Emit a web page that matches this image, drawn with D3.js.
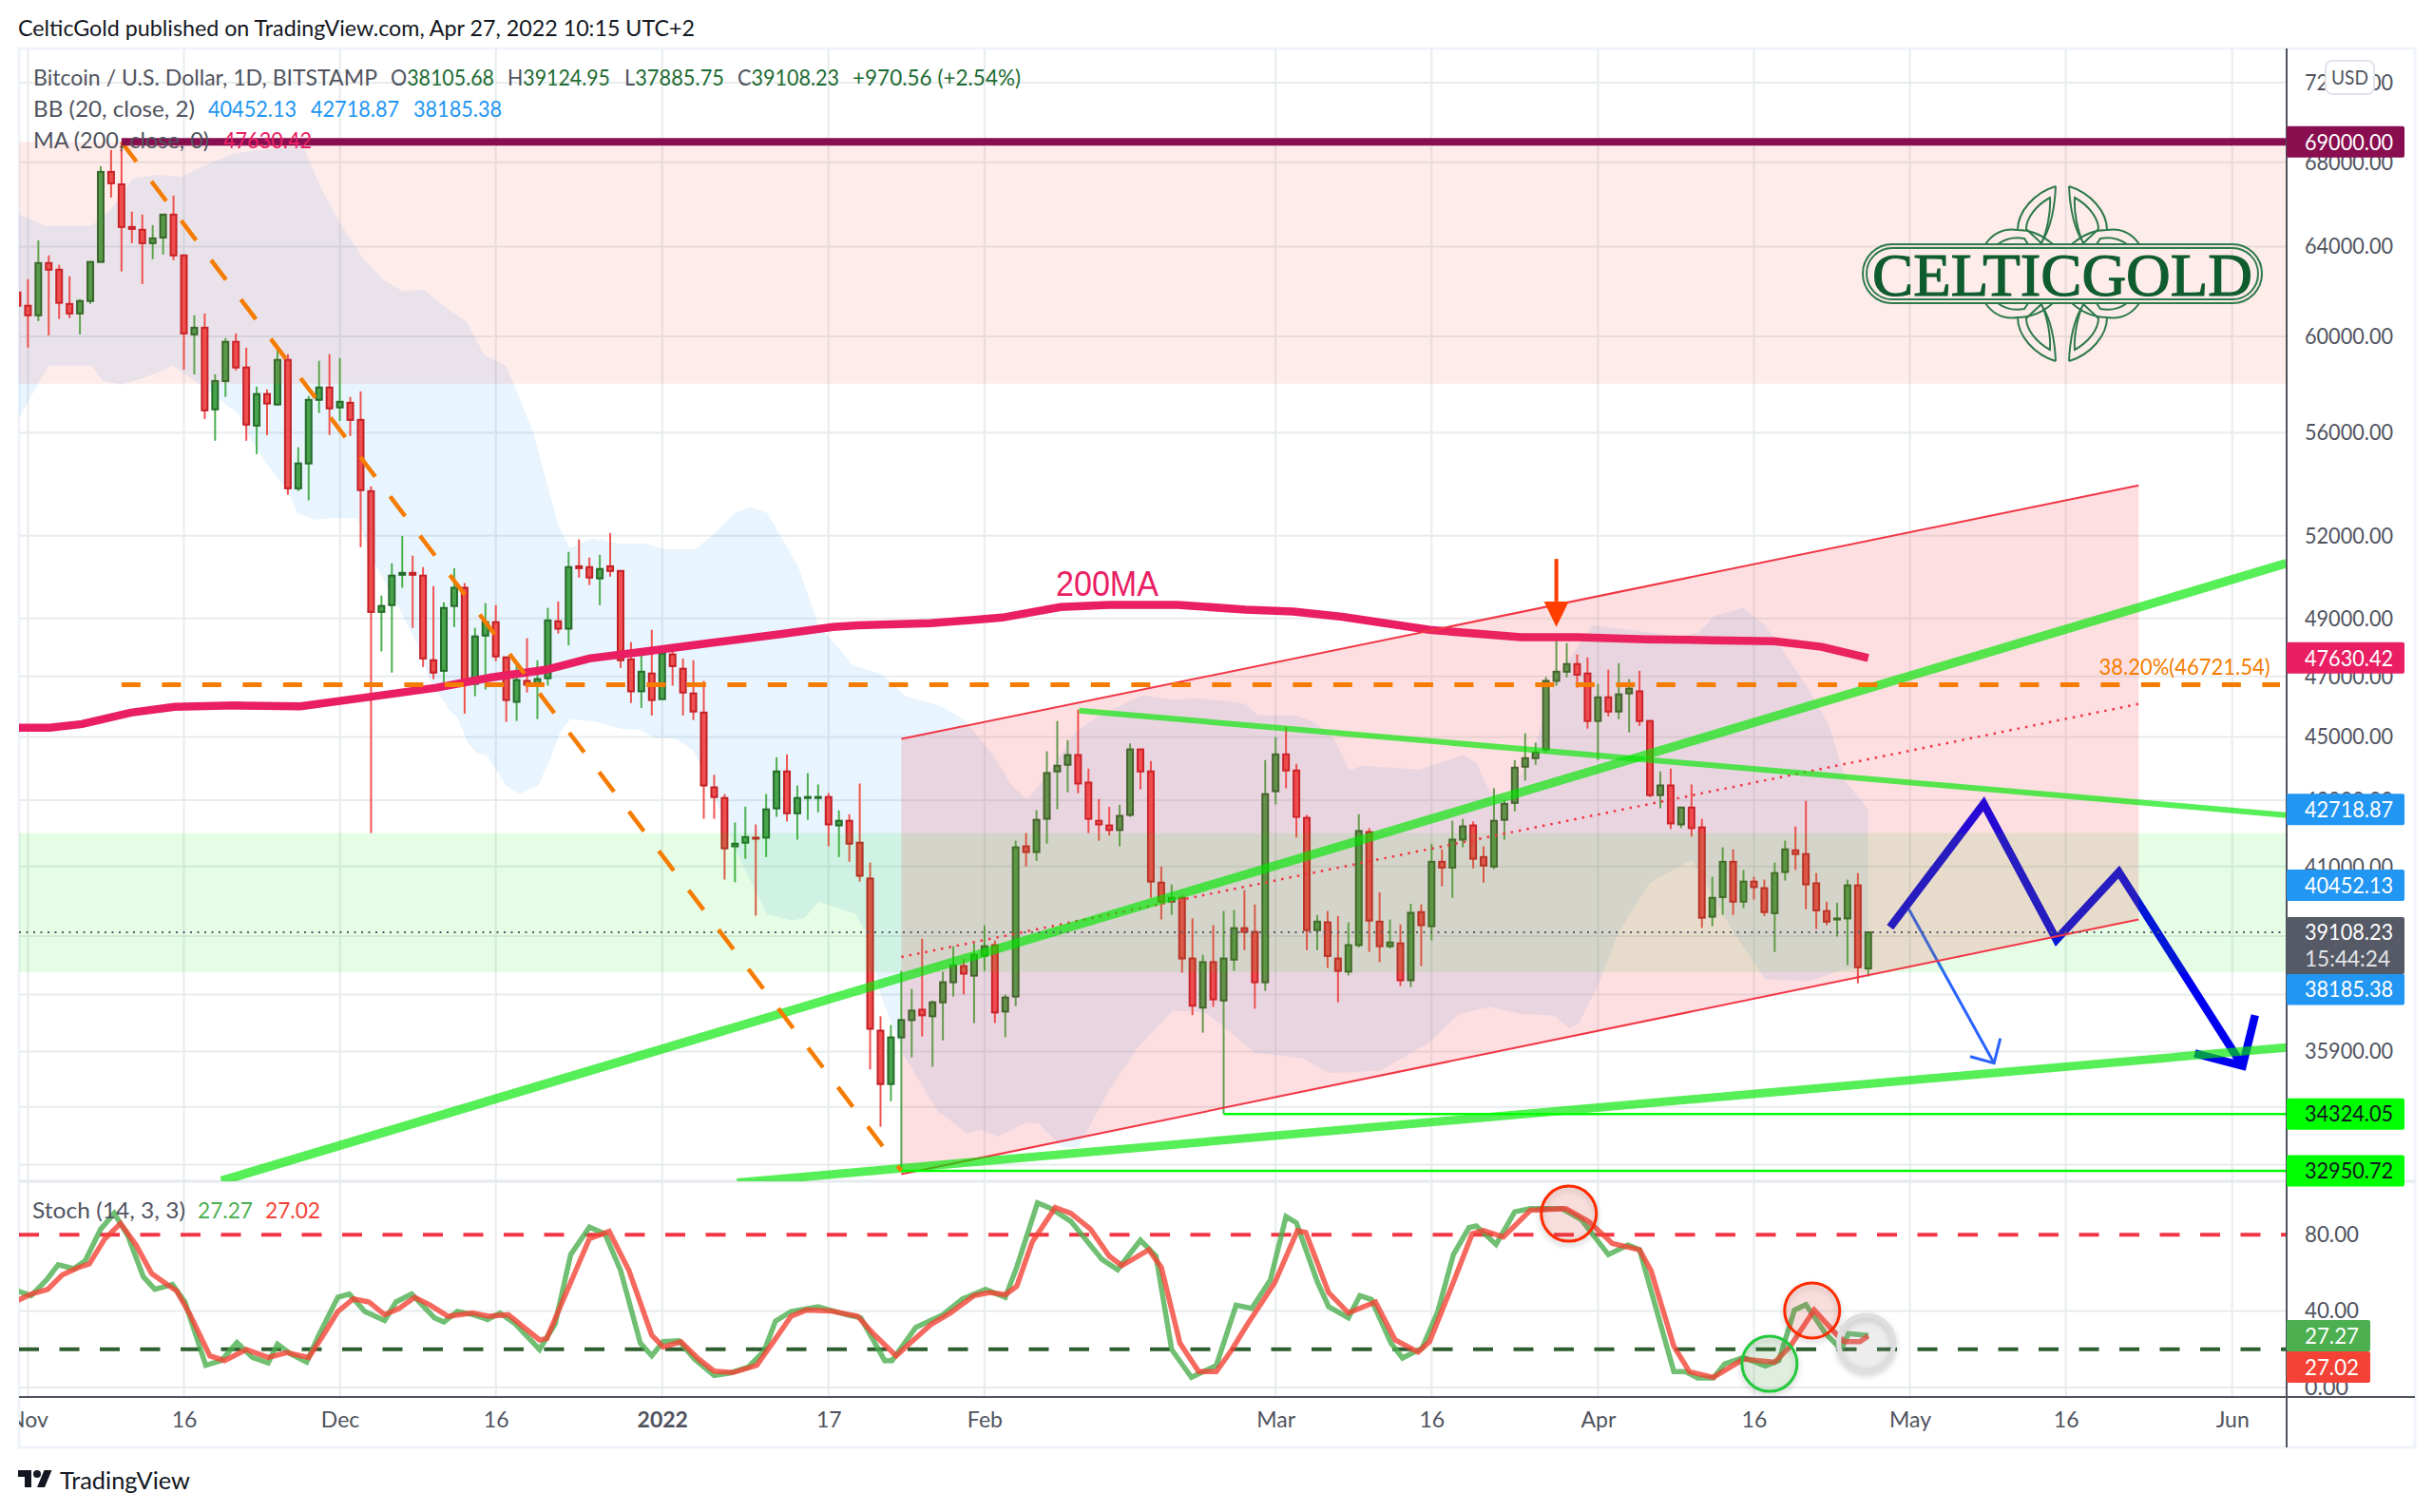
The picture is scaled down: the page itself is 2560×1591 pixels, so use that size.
<!DOCTYPE html>
<html><head><meta charset="utf-8">
<script src="https://cdn.jsdelivr.net/npm/d3@7/dist/d3.min.js"></script>
<style>
html,body{margin:0;padding:0;background:#fff}
svg{display:block}
text{font-family:Lato,"Noto Sans",sans-serif}
.axis path,.axis line{display:none}
</style></head><body><svg id="c" width="2560" height="1591"></svg>
<script>
// Daily candles, one small array per month. Each row: [open, close, high, low]
const ohlcOct=[[61925,61340,62260,61010]];
const ohlcNov=[[61340,60920,62520,59520],[60920,63250,64290,60670],[63250,62950,63600,60050],[62950,61470,63170,60760],[61420,61000,62650,60800],[61000,61550,61630,60090],[61550,63300,63340,61420],[63300,67530,67810,63300],[67530,66980,68600,66300],[66930,64910,69000,62870],[64910,64820,65630,64160],[64780,64160,65490,62300],[64160,64380,65000,63430],[64420,65490,65490,63640],[65490,63600,66390,63380],[63600,60130,63600,58590],[60090,60380,60920,58390],[60380,56900,61000,56550],[56940,58110,58390,55670],[58110,59770,59930,57450],[59770,58680,60130,58550],[58680,56320,59520,55670],[56280,57570,57880,55140],[57570,57180,57760,55900],[57140,59000,59440,57100],[59000,53800,59240,53550],[53800,54770,55410,53690],[54770,57330,57490,53340],[57330,57840,58960,56790],[57840,56980,59240,55900]];
const ohlcDec=[[57020,57250,59080,56470],[57210,56510,57450,55860],[56510,53730,57680,51570],[53690,49230,53880,42000],[49230,49440,49810,47850],[49470,50530,50980,47130],[50560,50630,51990,50090],[50630,50560,51260,48670],[50530,47610,50840,47320],[47550,47130,50150,46910],[47190,49370,49570,46810],[49440,50090,50800,48700],[50090,46750,50260,45760],[46750,48370,48670,46340],[48400,48870,49540,46560],[48870,47680,49470,47520],[47650,46210,47650,45490],[46150,46880,47385,45520],[46850,46720,48310,46460],[46690,46910,47550,45580],[46940,48930,49370,46690],[48900,48640,49600,48470],[48640,50840,51400,48060],[50870,50800,51860,50460],[50840,50460,51190,50190],[50430,50770,51290,49470],[50870,50700,52100,50490],[50700,47550,50700,47290],[47580,46500,48170,46110],[46500,47160,47910,45950],[47100,46210,48600,45700]];
const ohlcJan=[[46240,47780,47950,46240],[47750,47350,47980,46690],[47260,46460,47610,45700],[46430,45830,47550,45550],[45795,43460,46850,42430],[43400,43100,43790,42430],[43070,41540,43190,40620],[41600,41680,42320,40540],[41710,41880,42800,41230],[41860,41830,42260,39580],[41860,42720,43190,41280],[42750,43900,44350,42490],[43900,42600,44440,42350],[42600,43070,43460,41800],[43070,43100,43850,42400],[43070,43100,43490,42630],[43100,42260,43220,41600],[42230,42370,42690,41280],[42370,41680,42570,41140],[41710,40730,43520,40560],[40650,36490,41120,35440],[36440,35070,36820,34010],[35070,36265,36590,34640],[36265,36720,38040,32950.72],[36720,36970,37550,35750],[36995,36845,38930,36290],[36820,37190,37240,35510],[37190,37730,38020,36190],[37730,38190,38720,37345],[38170,37965,38380,37400],[37910,38480,38800,36640]];
const ohlcFeb=[[38455,38720,39310,38040],[38750,36920,38880,36640],[36945,37320,37400,36270],[37345,41570,41770,37090],[41600,41430,42000,41000],[41430,42400,42690,41170],[42430,43850,44540,41680],[43900,44080,45520,42720],[44110,44420,44900,43250],[44420,43520,45890,43220],[43550,42430,43990,42000],[42370,42260,43040,41770],[42230,42090,42800,41920],[42090,42520,42860,41600],[42550,44600,44790,42490],[44600,43900,44600,43340],[43900,40560,44230,40090],[40530,39980,41000,39470],[39980,40090,40480,39600],[40090,38380,40170,37990],[38380,37100,39500,36850],[37050,38280,38480,36390],[38280,37270,39310,37070],[37240,38380,39710,34324.05],[38350,39225,39740,38040],[39225,39120,40310,38610],[39120,37730,39900,37020],[37730,43190,44260,37500]];
const ohlcMar=[[43280,44440,45000,42870],[44440,43930,45330,43370],[43930,42490,44140,41860],[42460,39170,42550,38610],[39170,39410,39600,38610],[39390,38450,39710,38120],[38380,38040,39570,37190],[38020,38750,39390,37915],[38750,42060,42570,38690],[42030,39440,42150,38560],[39410,38720,40250,38280],[38720,38825,39470,38660],[38800,37785,39330,37630],[37785,39660,39920,37600],[39680,39310,39900,38170],[39280,41140,41680,38880],[41140,40970,41510,40420],[40970,41800,42370,40090],[41800,42200,42430,41570],[42230,41230,42350,40950],[41280,41030,41600,40530],[41000,42370,43370,40920],[42400,42890,43010,41800],[42920,44020,44260,42660],[44050,44320,45120,43610],[44320,44500,44820,44110],[44600,46850,46980,44480],[46850,47160,48240,46690],[47160,47420,48140,46970],[47420,47060,47750,46620],[47100,45520,47650,45270]];
const ohlcApr=[[45520,46300,46750,44260],[46300,45830,47230,45670],[45830,46400,47450,45580],[46430,46590,46910,45150],[46500,45520,47190,45360],[45520,43160,45550,43100],[43160,43460,43900,42750],[43460,42290,43990,42120],[42260,42775,42800,42150],[42775,42150,43490,41890],[42170,39520,42430,39230],[39550,40090,40700,39280],[40110,41140,41570,39600],[41140,39980,41510,39600],[39980,40560,40900,39790],[40560,40400,40700,40040],[40370,39680,40620,39570],[39650,40810,41120,38560],[40840,41510,41770,40590],[41480,41370,42200,40900],[41370,40480,42980,39760],[40510,39730,40810,39200],[39710,39410,39980,39310],[39470,39500,39950,38990],[39500,40450,40620,38200],[40450,38140,40810,37700],[38105.68,39108.23,39124.95,37885.75]];

// Indicators: [day since 1 Nov 2021, value]
const bbUpper=[[-1,65540],[1.7,64960],[6.1,64960],[8.1,65810],[10.1,67210],[12.5,67390],[14.8,67300],[17.1,67860],[19.7,68420],[22.4,68600],[25.8,68740],[26.2,69100],[28.2,66750],[29.9,65180],[32.3,63430],[34.1,62520],[36.1,61970],[38.1,62050],[40.2,61260],[42.2,60630],[43.9,59200],[46,58760],[48.6,56010],[51,52380],[52.1,51540],[54.3,51890],[57,51710],[59.5,51710],[61,51500],[64.2,51500],[65.9,52030],[68,52855],[69.5,53080],[71.1,52855],[74.1,50840],[76,48760],[77.9,48010],[79.3,47385],[82.1,47070],[84.4,46340],[87.7,46020],[90,45580],[91.9,44810],[93.3,44170],[94.7,43430],[96.1,43020],[98,43790],[100.8,45180],[103.1,45700],[105.4,46080],[107.2,46370],[110.4,46210],[112.2,46270],[115.2,46180],[117.1,46080],[118.3,45700],[121.9,45700],[123.7,45490],[125.6,44960],[127.1,43930],[128.3,44080],[133.8,43960],[138.1,44420],[139.3,44170],[140.6,43280],[142.4,43070],[144.9,44660],[146.8,46880],[150.5,48760],[159.1,48370],[160.7,48500],[162.2,49090],[165,49370],[167.1,48760],[169.4,47550],[171.4,46500],[173.3,45300],[174.9,43550],[177,42718.87]];
const bbLower=[[-1,56470],[0.2,57410],[2,58760],[6.1,58760],[7.2,58110],[9,57960],[11.3,58270],[14,58760],[17.4,57680],[19,57140],[20.2,56790],[21.3,55820],[22.9,54800],[25,53690],[25.9,52855],[27.7,52600],[29.4,52670],[31.7,52640],[33.2,51080],[35.4,49570],[37.5,48040],[38.7,46850],[40.5,45890],[41.3,45640],[42.3,44810],[43.2,44480],[44.1,44420],[46,43460],[47.3,43190],[49.1,43460],[50.3,44350],[51.2,45180],[52.2,45580],[54.6,45490],[57,45270],[58.8,45240],[60.4,44960],[62.2,44960],[64,44570],[64.9,43960],[68.3,41340],[71.1,39630],[73.5,39440],[74.7,39520],[76.1,39980],[79.6,39630],[80.8,39000],[82,37400],[84.2,35820],[87.5,34390],[90.3,33860],[91.7,33930],[93.3,33770],[96,34110],[97.2,34090],[99.4,33530],[101,33500],[104,34930],[106.8,36020],[110.1,36970],[113.3,36920],[118,35870],[122.6,35720],[125,35360],[126.4,35360],[130.1,35410],[134.8,36140],[137.6,36870],[140.6,37070],[143.7,36870],[146.8,36845],[148.3,36490],[149.2,36640],[151.1,37710],[153,39120],[156,40530],[160,41200],[161,40700],[164,39120],[167.1,37810],[171.4,37760],[173.9,38020],[177,38185.38]];
const ma200=[[-1,45300],[2.1,45300],[5.2,45420],[9.9,45795],[14.1,45985],[19.9,46030],[26.2,46000],[33,46320],[39.3,46620],[44.6,46970],[49.8,47225],[54,47610],[59.2,47840],[65.5,48140],[72.4,48450],[77.4,48700],[79.8,48760],[86.8,48830],[93.7,49030],[99.3,49400],[104,49480],[110.6,49480],[117.1,49310],[121.7,49240],[126.4,49060],[134.8,48600],[143.6,48340],[149,48340],[155.7,48270],[161.9,48240],[168,48200],[172.5,48010],[177,47630.42]];
const stochK=[[-1,50.6],[0.3,48.1],[1.8,56.4],[2.9,64.3],[4.4,62.2],[5.5,66.3],[7,82.9],[8.3,91.2],[9.6,79.6],[11.1,58],[12.2,51.4],[13.9,53.9],[15.1,44.8],[17.1,11.6],[18.6,14.1],[20.1,23.5],[21.6,15.7],[23.1,12.9],[24,22.7],[25.3,17.4],[26.8,13.3],[27.9,26.5],[29.8,47.2],[30.9,48.9],[32.4,39.8],[34.3,35.1],[35.4,44.8],[36.9,48.9],[39.1,36.5],[40,34.3],[41.3,39.8],[42.8,38.1],[44.2,35.6],[45.4,39],[46.9,33.2],[49.2,19.9],[50.7,33.2],[52.2,69.6],[54,84],[55.5,80.4],[57,61.3],[58.9,23.2],[60,16.6],[61.1,24],[62.6,24.5],[64.1,14.9],[66,6.3],[67.5,7.5],[69.3,10.8],[70.8,19.1],[71.9,34.8],[73.4,39.8],[76,42.3],[78.7,38.1],[80.1,36.5],[82.4,14.1],[83.1,14.1],[85.4,31.5],[88,38.1],[89.9,46.4],[92.1,51.4],[94,47.2],[95.1,63],[97.1,96.7],[98.4,93.7],[100.3,87],[103.3,67.1],[104.8,61.7],[107,77.1],[108.5,68.8],[110,19.9],[111.9,5.3],[114.3,11.6],[115,23.2],[116.2,43.1],[117.7,41.4],[119.5,56.4],[121,89.5],[122,86.2],[124,55.5],[125.1,42.3],[127,36.5],[128.1,48.1],[129.2,46.1],[131.1,23.2],[132.2,15.4],[134.1,20.7],[135.6,39.8],[137.1,69.6],[138.6,83.7],[139.3,84.6],[141.2,74.9],[143,92],[144.5,93.7],[147.5,93.7],[149.4,87.9],[152,69.6],[153.9,74.6],[155,72.1],[156.5,43.1],[158.3,8.3],[159.4,8.3],[160.6,5],[162.1,5],[163.2,12.4],[165,15.7],[167.1,11.3],[168.4,14.1],[169.9,40.6],[171,43.4],[172.9,28.2],[174.4,19.9],[175.1,28.2],[177,27.27]];
const stochD=[[-1,45.6],[0.3,48.9],[1.9,51.4],[3.3,58.9],[4.8,62.7],[5.9,64.7],[7.4,77.9],[8.9,85.9],[10.4,74.6],[11.9,59.7],[13.4,53.9],[14.3,50.6],[15.6,38.1],[17.5,16.6],[18.9,14.1],[21,19.9],[23.1,15.7],[24.9,18.2],[27,15.7],[28.3,26.5],[29.8,39.8],[31.3,46.4],[32.8,44.8],[34.3,38.1],[35.7,41.4],[37.2,47.2],[38.7,43.1],[40.4,37.3],[42.8,39],[44.3,37.3],[46.2,38.1],[49.2,24.9],[49.9,25.7],[51,39.8],[54,77.9],[55.9,81.7],[57.8,61.3],[60,27.4],[61.1,21.2],[62.8,24],[64.5,14.9],[66,8.6],[67.8,7.8],[70.1,11.6],[71.6,23.2],[73.4,37.3],[74.9,40.6],[77.2,40.1],[79.8,37.3],[81.3,28.2],[83.5,16.6],[85,24],[86.9,33.2],[88.7,39],[91,48.1],[92.5,49.7],[94,48.6],[95.1,53],[96.6,76.3],[98.8,94.2],[100.3,91.2],[102.2,82.9],[104,68.8],[105.2,63.8],[107.8,72.1],[109,63],[110.8,23.2],[112.6,8.3],[114.3,8.3],[115.8,19.9],[117.3,33.2],[119.9,54.7],[122.1,82.1],[122.9,81.2],[125.1,49.7],[127,39],[129.6,44.8],[131.5,24.9],[133.7,18.6],[134.8,24],[136.7,49.7],[138.9,80.4],[140,82.1],[141.9,78.8],[144.5,92.8],[147.9,93.7],[150.1,87],[152.4,75.4],[155,72.1],[156.1,61.3],[158.3,21.6],[159.8,8.3],[162.1,5.3],[165,14.9],[168,13.2],[169.5,21.6],[171.8,40.6],[174,27.4],[174.7,24],[176.2,24],[177,27.02]];

// Drawings: [day, price]
const channelTop=[[84,44935],[203,53914]];
const channelMid=[[84,38420],[203,46080]];
const channelBot=[[84,32871],[203,39470]];
const trendA=[[18.6,32713],[217.2,50980]];
const trendB=[[68.2,32670],[217.2,36005]];
const trendC=[[101.1,45860],[217.2,42545]];
const fibDiag=[[9,69000],[84,32950.72]];
const fibLevel=[[9,46721.54],[216.6,46721.54]];
const supportA=[[115,34324.05],[218,34324.05]];
const supportB=[[84,32950.72],[218,32950.72]];
const athLine=[[9,69000],[218,69000]];
const zigzag=[[179.1,39250],[188.1,42890],[195.1,38905],[201.1,40840],[213,35530]];
const zigzagHead=[[214.2,36850],[213,35530],[208.4,35850]];
const thinArrow=[[180.9,39760],[189.1,35600]];
const thinHead=[[186.8,35770],[189.1,35600],[189.7,36240]];
const redZone=[69000,58000];
const greenZone=[42000,38000];
const lastClose=39108.23;

// Axes
const priceTicks=[72000,68000,64000,60000,56000,52000,49000,47000,45000,43000,41000,39000,37400,35900,34500,33100];
const priceLabelled=[72000,68000,64000,60000,56000,52000,49000,47000,45000,43000,41000,35900];
const stochTicks=[80,40,0];
const timeDays=[0,15,30,45,61,77,92,120,135,151,166,181,196,212];
const timeLabels=["Nov","16","Dec","16","2022","17","Feb","Mar","16","Apr","16","May","16","Jun"];

// Price tags on the right-hand scale
const tagValues=[69000,47630.42,42718.87,40452.13,38185.38,34324.05,32950.72];
const tagText=["69000.00","47630.42","42718.87","40452.13","38185.38","34324.05","32950.72"];
const tagFill=["#880e4f","#e91e63","#2196f3","#2196f3","#2196f3","#00ff00","#00ff00"];
const tagInk=["#fff","#fff","#fff","#fff","#fff","#131722","#131722"];

const L=20,R=2406,T=51,PB=1243,SB=1470,OUT=2541,BOT=1523;
const x=d3.scaleLinear().domain([0,177]).range([29.4,1965.8]);
const y=d3.scaleLog().domain([72000,32950.72]).range([87,1232]);
const ys=d3.scaleLinear().domain([0,100]).range([1460,1259]);
const svg=d3.select("#c");
const ink="#50535e";
const defs=svg.append("defs");
defs.append("clipPath").attr("id","cp").append("rect").attr("x",L).attr("y",T).attr("width",R-L).attr("height",PB-T);
defs.append("clipPath").attr("id","cs").append("rect").attr("x",L).attr("y",PB).attr("width",R-L).attr("height",SB-PB);
defs.append("clipPath").attr("id","ct").append("rect").attr("x",L).attr("y",SB).attr("width",R-L).attr("height",BOT-SB);

const line=d3.line().x(d=>x(d[0])).y(d=>y(d[1]));
const sline=d3.line().x(d=>x(d[0])).y(d=>ys(d[1]));

// frame
svg.append("rect").attr("x",L).attr("y",T).attr("width",OUT-L).attr("height",BOT-T).attr("fill","#fff").attr("stroke","#f0f3fa").attr("stroke-width",3);

// grid
const grid=svg.append("g").attr("stroke","#e8ecec").attr("stroke-width",2);
timeDays.forEach(d=>grid.append("line").attr("x1",x(d)).attr("x2",x(d)).attr("y1",T).attr("y2",SB));
priceTicks.forEach(p=>grid.append("line").attr("x1",L).attr("x2",R).attr("y1",y(p)).attr("y2",y(p)));
[40,0].forEach(v=>grid.append("line").attr("x1",L).attr("x2",R).attr("y1",ys(v)).attr("y2",ys(v)));
grid.append("line").attr("x1",L).attr("x2",OUT).attr("y1",PB).attr("y2",PB).attr("stroke","#e6e9ef").attr("stroke-width",3);

const pane=svg.append("g").attr("clip-path","url(#cp)");

// Bollinger fill
const area=[...bbUpper,...bbLower.slice().reverse()];
pane.append("path").attr("d",line(area)+"Z").attr("fill","rgba(33,150,243,0.1)");

// candles
const months=[ohlcOct,ohlcNov,ohlcDec,ohlcJan,ohlcFeb,ohlcMar,ohlcApr];
const rows=months.flat().map((r,i)=>({day:i-1,o:r[0],c:r[1],h:r[2],l:r[3]}));
const cg=pane.append("g");
const cs=cg.selectAll("g").data(rows).join("g");
cs.append("line").attr("x1",d=>x(d.day)).attr("x2",d=>x(d.day)).attr("y1",d=>y(d.h)).attr("y2",d=>y(d.l))
  .attr("stroke",d=>d.c>=d.o?"#4caf50":"#ef5350").attr("stroke-width",2);
cs.append("rect").attr("x",d=>x(d.day)-3).attr("width",6)
  .attr("y",d=>y(Math.max(d.o,d.c))).attr("height",d=>Math.max(1,Math.abs(y(d.o)-y(d.c))))
  .attr("fill",d=>d.c>=d.o?"#48a44c":"#f04f50").attr("stroke",d=>d.c>=d.o?"#256b2a":"#c32026").attr("stroke-width",2);

// MA200
pane.append("path").attr("d",line(ma200)).attr("fill","none").attr("stroke","#e91e63").attr("stroke-width",8.5);

// blue forecast
const bluePath=(g,a,w,c)=>g.append("path").attr("d",line(a)).attr("fill","none").attr("stroke",c).attr("stroke-width",w).attr("stroke-linejoin","miter");
bluePath(pane,zigzag,8.5,"#0000f0");bluePath(pane,zigzagHead,8.5,"#0000f0");
bluePath(pane,thinArrow,3,"#2962ff");bluePath(pane,thinHead,3,"#2962ff");

// zones
const zone=(z,x0,x1,fill)=>pane.append("rect").attr("x",x0).attr("width",x1-x0).attr("y",y(z[0])).attr("height",y(z[1])-y(z[0])).attr("fill",fill);
zone(redZone,L,R,"rgba(244,67,54,0.1)");
zone(greenZone,L,R,"rgba(0,230,0,0.1)");

// channel
pane.append("path").attr("d",line([channelTop[0],channelTop[1],channelBot[1],channelBot[0]])+"Z").attr("fill","rgba(242,54,69,0.16)");
[channelTop,channelBot].forEach(a=>pane.append("path").attr("d",line(a)).attr("stroke","#f23645").attr("stroke-width",2).attr("fill","none"));
pane.append("path").attr("d",line(channelMid)).attr("stroke","#f23645").attr("stroke-width",2.5).attr("stroke-dasharray","2.5 6").attr("fill","none");

// trend lines
[[trendA,9.5],[trendB,9],[trendC,6]].forEach(([a,w])=>pane.append("path").attr("d",line(a)).attr("stroke","rgba(0,230,0,0.66)").attr("stroke-width",w).attr("fill","none"));

// last close dotted
pane.append("line").attr("x1",L).attr("x2",R).attr("y1",y(lastClose)).attr("y2",y(lastClose)).attr("stroke","#555a66").attr("stroke-width",2).attr("stroke-dasharray","2 5.5");

// fib
pane.append("path").attr("d",line(fibLevel)).attr("stroke","#f57c00").attr("stroke-width",5).attr("stroke-dasharray","20 22.5").attr("fill","none");
pane.append("path").attr("d",line(fibDiag)).attr("stroke","#f57c00").attr("stroke-width",4.5).attr("stroke-dasharray","26 26").attr("fill","none");
pane.append("text").attr("x",2208.5).attr("y",702).attr("dy","0.36em").attr("fill","#f57c00").attr("font-size",23).attr("textLength",180).attr("lengthAdjust","spacingAndGlyphs").text("38.20%(46721.54)");

// horizontal supports
[supportA,supportB].forEach(a=>pane.append("path").attr("d",line(a)).attr("stroke","#00ff00").attr("stroke-width",2.5).attr("fill","none"));
pane.append("path").attr("d",line(athLine)).attr("stroke","#880e4f").attr("stroke-width",8).attr("fill","none");

// red arrow
const ax=x(147);
pane.append("line").attr("x1",ax).attr("x2",ax).attr("y1",y(51140)).attr("y2",y(49600)).attr("stroke","#ff3d00").attr("stroke-width",4);
pane.append("path").attr("d",`M${ax-13},${y(49600)}L${ax},${y(48700)}L${ax+13},${y(49600)}Z`).attr("fill","#ff3d00");

// 200MA label
pane.append("text").attr("x",1111).attr("y",y(49810)).attr("fill","#e91e63").attr("font-size",36).attr("textLength",108).attr("lengthAdjust","spacingAndGlyphs").style("font-family","'Liberation Sans'").text("200MA");

// CelticGold watermark
const logo=svg.append("g").attr("fill","none").attr("stroke","#2d7a4a").attr("stroke-width",2);
const cx=2170,cy=288;
[[1,1],[-1,1],[1,-1],[-1,-1]].forEach(([a,b])=>{
 const q=logo.append("g").attr("transform",`translate(${cx},${cy}) scale(${a},${b})`);
 q.append("path").attr("d","M-7,-92C-30,-85 -47,-65 -47,-46");
 q.append("path").attr("d","M-7,-92C-8,-70 -12,-50 -20,-36");
 q.append("path").attr("d","M-13,-80C-28,-72 -38,-58 -38,-47L-22,-32C-16,-45 -12,-65 -13,-80Z");
 q.append("path").attr("d","M-81,-31C-72,-44 -60,-48 -47,-46C-33,-46 -20,-40 -10,-31");
 q.append("path").attr("d","M-68,-31C-60,-37 -50,-39 -40,-37L-36,-31Z");
});
logo.append("rect").attr("x",1960).attr("y",257).attr("width",420).attr("height",62).attr("rx",31);
logo.append("rect").attr("x",1964).attr("y",261).attr("width",412).attr("height",54).attr("rx",27);
svg.append("text").attr("x",1970).attr("y",311).attr("fill","#0f5c2e").attr("stroke","#0f5c2e").attr("stroke-width",1.2).attr("font-size",64).attr("textLength",400).attr("lengthAdjust","spacingAndGlyphs").style("font-family","'Liberation Serif'").text("CELTICGOLD");

// Stochastic pane
const st=svg.append("g").attr("clip-path","url(#cs)");
st.append("line").attr("x1",L).attr("x2",R).attr("y1",ys(80)).attr("y2",ys(80)).attr("stroke","#f23645").attr("stroke-width",4).attr("stroke-dasharray","21 21.5");
st.append("line").attr("x1",L).attr("x2",R).attr("y1",ys(20)).attr("y2",ys(20)).attr("stroke","#2f5d2f").attr("stroke-width",4).attr("stroke-dasharray","21 21.5");
st.append("path").attr("d",sline(stochK)).attr("fill","none").attr("stroke","#4caf50").attr("stroke-width",5.5).attr("opacity",0.8);
st.append("path").attr("d",sline(stochD)).attr("fill","none").attr("stroke","#f44336").attr("stroke-width",5.5).attr("opacity",0.8);
const rings=[[148.2,91,"#ff2a00","rgba(244,67,54,0.14)",3],[171.6,40.3,"#ff2a00","rgba(244,67,54,0.14)",3],[167.5,12.4,"#22c93a","rgba(76,175,80,0.14)",3],[176.8,23.4,"#dedede","rgba(170,170,170,0.14)",5]];
rings.forEach(r=>st.append("circle").attr("cx",x(r[0])).attr("cy",ys(r[1])).attr("r",29).attr("stroke",r[2]).attr("fill",r[3]).attr("stroke-width",r[4]).style("filter","drop-shadow(0 3px 3px rgba(0,0,0,0.22))"));

// axis rules
svg.append("line").attr("x1",L).attr("x2",OUT).attr("y1",SB).attr("y2",SB).attr("stroke",ink).attr("stroke-width",2);
svg.append("line").attr("x1",R).attr("x2",R).attr("y1",T).attr("y2",BOT).attr("stroke",ink).attr("stroke-width",2);

// Axes through d3.axis
const fs=23;
const pa=svg.append("g").attr("class","axis").attr("transform",`translate(${R},0)`).call(d3.axisRight(y).tickValues(priceLabelled).tickFormat(d=>d3.format(".2f")(d)).tickSize(0).tickPadding(19));
const sa=svg.append("g").attr("class","axis").attr("transform",`translate(${R},0)`).call(d3.axisRight(ys).tickValues(stochTicks).tickFormat(d=>d3.format(".2f")(d)).tickSize(0).tickPadding(19));
const ta=svg.append("g").attr("class","axis").attr("clip-path","url(#ct)").append("g").attr("transform",`translate(0,${SB})`)
 .call(d3.axisBottom(x).tickValues(timeDays).tickFormat((d,i)=>timeLabels[i]).tickSize(0).tickPadding(16));
[pa,sa,ta].forEach(g=>g.selectAll("text").attr("fill",ink).attr("font-size",fs).style("font-family","Lato"));
pa.selectAll("text").attr("textLength",93).attr("lengthAdjust","spacingAndGlyphs");
sa.selectAll("text").attr("textLength",d=>d===0?46:57).attr("lengthAdjust","spacingAndGlyphs");
ta.selectAll("text").filter((d,i)=>timeLabels[i]==="2022").attr("font-weight",700);
ta.select(".domain").remove();

// USD badge
svg.append("rect").attr("x",2447).attr("y",64).attr("width",51).attr("height",35).attr("rx",7).attr("fill","#fff").attr("stroke","#e0e3eb").attr("stroke-width",2);
svg.append("text").attr("x",2453).attr("y",81).attr("dy","0.36em").attr("fill",ink).attr("font-size",22).attr("textLength",39).attr("lengthAdjust","spacingAndGlyphs").text("USD");

// tiny helper: a text run stretched to its measured width
const run=(g,xp,yp,t,c,w,size)=>{const e=g.append("text").attr("x",xp).attr("y",yp).attr("dy","0.36em").attr("fill",c).attr("font-size",size||fs).text(t);
 if(w)e.attr("textLength",w).attr("lengthAdjust","spacingAndGlyphs");return e;};

// price tags
const tagW=124;
const tagY=[149,692,851,932,1041,1172,1232];
tagValues.forEach((v,i)=>{
 const cy=(i===4)?tagY[i]:y(v);
 svg.append("rect").attr("x",R).attr("y",cy-16.5).attr("width",tagW).attr("height",33).attr("rx",2).attr("fill",tagFill[i]);
 run(svg,R+19,cy,tagText[i],tagInk[i],93);
});
svg.append("rect").attr("x",R).attr("y",965).attr("width",tagW).attr("height",60).attr("rx",2).attr("fill","#555a66");
run(svg,R+19,y(lastClose),"39108.23","#fff",93);
run(svg,R+19,1009,"15:44:24","#e3e4e8",90);
[["27.27",27.27,"#4caf50",1405.5],["27.02",27.02,"#f44336",1438.5]].forEach(d=>{
 svg.append("rect").attr("x",R).attr("y",d[3]-16.5).attr("width",88).attr("height",33).attr("rx",2).attr("fill",d[2]);
 run(svg,R+19,d[3],d[0],"#fff",57);
});

// Legend text
run(svg,19,30,"CelticGold published on TradingView.com, Apr 27, 2022 10:15 UTC+2","#131722",712);
run(svg,35,82,"Bitcoin / U.S. Dollar, 1D, BITSTAMP",ink,362);
const dg="#1e6b33";
[["O",411,"38105.68",109],["H",534,"39124.95",108],["L",657,"37885.75",105],["C",776,"39108.23",107]].forEach(d=>{
 const t=run(svg,d[1],82,d[0],ink,d[3]);
 t.append("tspan").attr("fill",dg).text(d[2]);
});
run(svg,897,82,"+970.56 (+2.54%)",dg,177);
run(svg,35,115,"BB (20, close, 2)",ink,170);
run(svg,219,115,"40452.13","#2196f3",93);run(svg,327,115,"42718.87","#2196f3",93);run(svg,435,115,"38185.38","#2196f3",93);
run(svg,35,148,"MA (200, close, 0)",ink,185);
run(svg,235,148,"47630.42","#e91e63",93);
run(svg,34,1274,"Stoch (14, 3, 3)",ink,161);
run(svg,208,1274,"27.27","#4caf50",58);run(svg,279,1274,"27.02","#f44336",58);

// TradingView mark
const tv=svg.append("g").attr("transform","translate(19,1543)").attr("fill","#131722");
tv.append("path").attr("d","M14 22H7V11H0V4h14v18zM28 22h-8l7.5-18h8L28 22z");
tv.append("circle").attr("cx",20).attr("cy",8).attr("r",4);
run(svg,63,1558,"TradingView","#131722",137,25);
</script></body></html>
